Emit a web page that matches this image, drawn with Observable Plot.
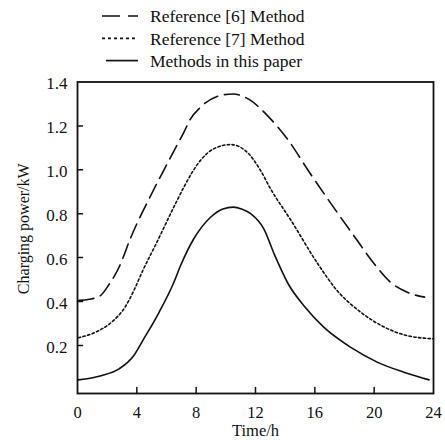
<!DOCTYPE html>
<html><head><meta charset="utf-8">
<script src="https://cdn.jsdelivr.net/npm/d3@7"></script>
<script src="https://cdn.jsdelivr.net/npm/@observablehq/plot@0.6"></script>
<style>
body{margin:0;background:#fff;}
#wrap{position:relative;width:445px;height:440px;}
#wrap svg{display:block;}
#wrap svg, #wrap svg text{font-family:"Liberation Serif","Times New Roman",Times,serif !important;}
#legend{position:absolute;left:0;top:0;}
</style></head><body><div id="wrap"></div>
<script>
// ---- data ----
const seriesNames = ["Reference [6] Method", "Reference [7] Method", "Methods in this paper"];

const ref6Hours = [0.1, 0.8, 1.55, 2.1, 2.8, 3.6, 5.0, 6.4, 7.17, 7.6, 8.29, 9.87, 10.5, 11.67, 12.79, 14.14, 15.7, 17.1, 18.7, 20.0, 21.1, 22.2, 23.4];
const ref6Power = [0.405, 0.41, 0.427, 0.475, 0.556, 0.693, 0.891, 1.073, 1.171, 1.23, 1.285, 1.342, 1.345, 1.316, 1.248, 1.141, 0.982, 0.845, 0.693, 0.572, 0.488, 0.443, 0.42];

const ref7Hours = [0.05, 1.2, 2.3, 3.2, 3.8, 4.4, 5.3, 6.6, 7.17, 8.29, 9.19, 10.32, 11.44, 12.34, 13.01, 14.4, 16.2, 17.5, 19.1, 20.7, 22.2, 24.0];
const ref7Power = [0.235, 0.26, 0.306, 0.374, 0.45, 0.541, 0.663, 0.845, 0.921, 1.043, 1.096, 1.115, 1.08, 0.997, 0.914, 0.769, 0.572, 0.45, 0.351, 0.283, 0.245, 0.23];

const paperHours = [0.05, 1.6, 2.8, 3.8, 4.4, 5.5, 6.5, 6.95, 7.84, 8.97, 9.8, 10.5, 11.1, 11.67, 12.56, 13.3, 14.2, 15.35, 16.6, 18.4, 20.2, 22.0, 23.7];
const paperPower = [0.043, 0.062, 0.093, 0.154, 0.222, 0.351, 0.488, 0.564, 0.686, 0.784, 0.822, 0.83, 0.82, 0.8, 0.731, 0.61, 0.481, 0.374, 0.283, 0.192, 0.124, 0.078, 0.043];

const xTicks = [0, 4, 8, 12, 16, 20, 24];
const yTicks = [0.2, 0.4, 0.6, 0.8, 1.0, 1.2, 1.4];
const xLabel = "Time/h";
const yLabel = "Charging power/kW";

// ---- styles ----
const font = "Liberation Serif, Times New Roman, Times, serif";
const ink = "#111";
const plotDash = ["15,7", "2.4,2.4", null];
const legendDash = ["18,8", "3,3", null];

const toRows = (hours, power) => hours.map((h, i) => ({h, p: power[i]}));
const seriesRows = [toRows(ref6Hours, ref6Power), toRows(ref7Hours, ref7Power), toRows(paperHours, paperPower)];

const yMin = -0.019;
const tickShape = {draw(ctx, l) { ctx.moveTo(0, 0); ctx.lineTo(0, -l); }};

const chart = Plot.plot({
  width: 445,
  height: 440,
  marginLeft: 77,
  marginRight: 12,
  marginTop: 81.5,
  marginBottom: 47,
  style: {fontFamily: font, color: ink, background: "#fff"},
  x: {domain: [0, 24]},
  y: {domain: [yMin, 1.4]},
  marks: [
    ...seriesRows.map((rows, i) => Plot.line(rows, {
      x: "h", y: "p", curve: "monotone-x", stroke: ink, strokeWidth: 1.6,
      strokeDasharray: plotDash[i]
    })),
    Plot.vector(xTicks.slice(1, -1), {x: d => d, y: () => yMin, length: 6, rotate: 0, anchor: "start", shape: tickShape, stroke: ink, strokeWidth: 1.5}),
    Plot.vector(yTicks.slice(0, -1), {x: () => 0, y: d => d, length: 5, rotate: 90, anchor: "start", shape: tickShape, stroke: ink, strokeWidth: 1.5}),
    Plot.frame({stroke: ink, strokeWidth: 1.8}),
    Plot.axisX({ticks: xTicks, tickSize: 0, tickPadding: 13, fontSize: 16.5, fontFamily: font, label: null, tickFormat: d3.format("d")}),
    Plot.axisY({ticks: yTicks, tickSize: 0, tickPadding: 10, fontSize: 17, fontFamily: font, label: null, tickFormat: d3.format(".1f"), dy: 2}),
    Plot.text([xLabel], {text: d => d, frameAnchor: "bottom", lineAnchor: "middle", textAnchor: "middle", dy: 37.6, fontSize: 16.5, fontFamily: font, fill: ink}),
    Plot.text([yLabel], {text: d => d, frameAnchor: "left", lineAnchor: "middle", textAnchor: "middle", dx: -54, dy: -9, rotate: -90, fontSize: 16, fontFamily: font, fill: ink})
  ]
});

const wrap = document.getElementById("wrap");
wrap.appendChild(chart);

// legend overlay
const leg = d3.create("svg").attr("id", "legend").attr("width", 445).attr("height", 75)
  .style("font-family", font);
seriesNames.forEach((name, i) => {
  const ly = 16 + i * 22.3;
  leg.append("line").attr("x1", i === 2 ? 106 : 102).attr("x2", 138).attr("y1", ly).attr("y2", ly)
    .attr("stroke", ink).attr("stroke-width", 1.7).attr("stroke-dasharray", legendDash[i]);
  leg.append("text").attr("x", 150).attr("y", 22.3 + i * 22.2).attr("font-size", 17.5).attr("fill", ink).text(name);
});
wrap.appendChild(leg.node());
</script>
</body></html>
